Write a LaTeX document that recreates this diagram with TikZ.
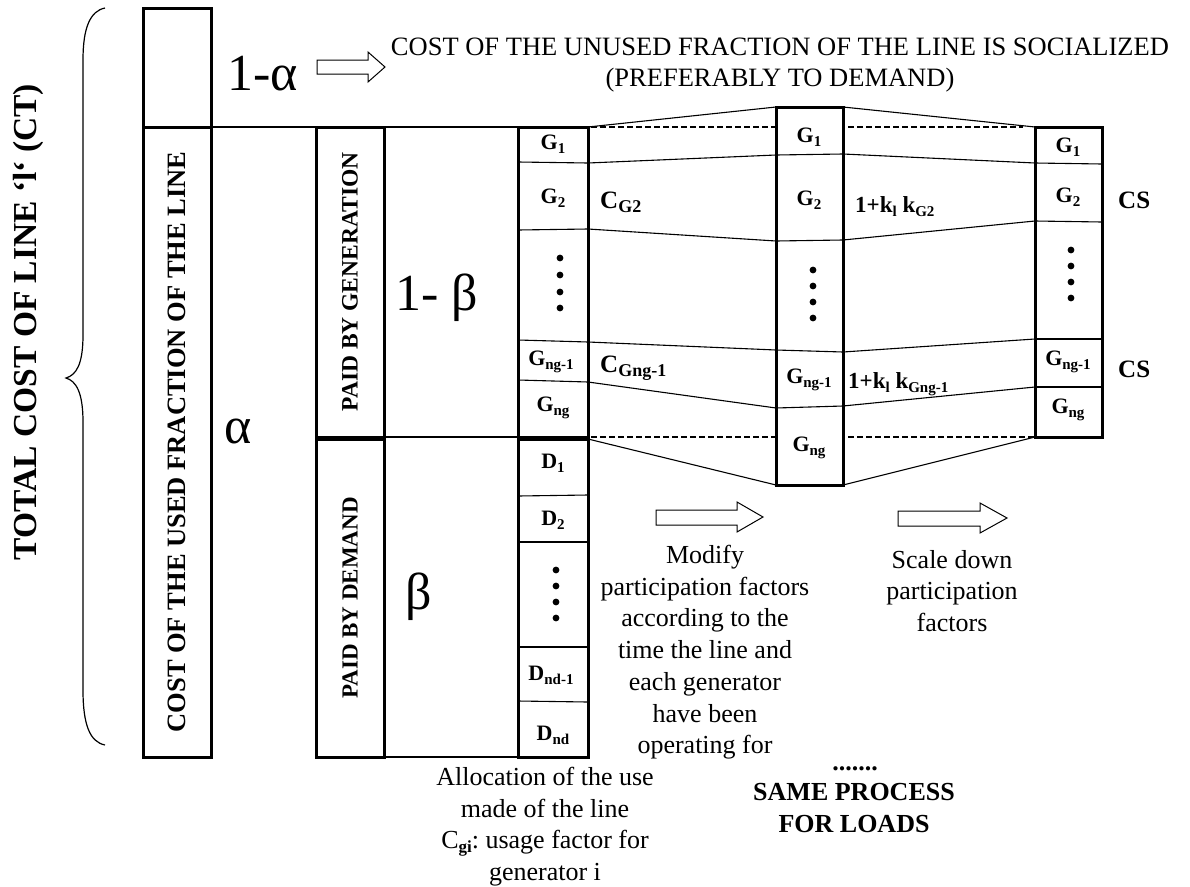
\documentclass[tikz,border=0pt]{standalone}
\usepackage{fontspec}
\setmainfont{Liberation Serif}
\usepackage{graphicx}
\frenchspacing
\newcommand\fs[1]{\fontsize{#1}{#1}\selectfont}
\newcommand\lsub[2][15]{\raisebox{-4pt}{\fontsize{#1}{#1}\selectfont #2}}
\begin{document}
\begin{tikzpicture}[x=1pt,y=-1pt,
  thickbox/.style={draw, line width=3pt, inner sep=0pt, outer sep=0pt},
  thinline/.style={line width=1.1pt},
  dashline/.style={line width=1.1pt, dash pattern=on 6pt off 3pt},
  celltext/.style={font=\bfseries\fs{22}, inner sep=0pt},
  lab/.style={font=\bfseries\fs{25}, inner sep=0pt, anchor=base west},
  big/.style={font=\fs{52}, inner sep=0pt, anchor=base west},
  para/.style={font=\fontsize{26}{31.7}\selectfont, align=center, inner sep=0pt, anchor=north},
  bold26/.style={font=\bfseries\fs{26}, inner sep=0pt, anchor=base},
  hollow/.style={draw, line width=1pt, fill=white},
  dotfill/.style={fill=black}
]
\useasboundingbox (0,0) rectangle (1190,886);

% brace and total label
\draw[line width=1.2pt] (105,8) .. controls (90,11) and (83,28) .. (83,60) -- (83,335)
  .. controls (83,365) and (76,375) .. (66,378) .. controls (76,381) and (83,392) .. (83,422)
  -- (83,690) .. controls (83,725) and (90,742) .. (105,745);
\node[rotate=90, font=\bfseries\fs{33.5}, inner sep=0pt] (total) at (28,322) {TOTAL COST OF LINE ‘l‘ (CT)};

% left column
\node[thickbox, minimum width=68, minimum height=119] (unused) at (177,67.5) {};
\node[thickbox, minimum width=68, minimum height=630, font=\bfseries\fs{26.5}] (used) at (177,442)
  {\rotatebox{90}{COST OF THE USED FRACTION OF THE LINE}};

\node[big] (oma) at (227,90) {1-α};
\node[big] (alpha) at (224,443) {α};
\draw[hollow] (317,60) -- (368,60) -- (368,52) -- (385,67) -- (368,82) -- (368,74) -- (317,74) -- cycle;
\node[para, font=\fontsize{26.5}{31}\selectfont] (topt) at (780,38)
  {COST OF THE UNUSED FRACTION OF THE LINE IS SOCIALIZED\\(PREFERABLY TO DEMAND)};

% paid by boxes
\node[thickbox, minimum width=68, minimum height=310, font=\bfseries\fs{23.5}] (gen) at (350,282)
  {\rotatebox{90}{PAID BY GENERATION}};
\node[thickbox, minimum width=68, minimum height=318, font=\bfseries\fs{23}] (dem) at (350,598)
  {\rotatebox{90}{PAID BY DEMAND}};
\node[big] (omb) at (395,310) {1- β};
\node[big] (beta) at (405,609) {β};

% columns
\node[thickbox, minimum width=70, minimum height=310] (c1g) at (553,282) {};
\node[thickbox, minimum width=70, minimum height=318] (c1d) at (553,598) {};
\node[thickbox, minimum width=67, minimum height=378] (c2) at (809.5,296) {};
\node[thickbox, minimum width=67, minimum height=310] (c3) at (1068.5,282) {};

% horizontal lines from left to column 1
\draw[thinline] (unused.south east) -- (c1g.north west);
\draw[thinline] (gen.south east) -- (c1g.south west);
\draw[thinline] (dem.south east) -- (c1d.south west);

% boundary coordinates
\coordinate (a1) at (588,163); \coordinate (b1) at (776,155);
\coordinate (a2) at (588,229); \coordinate (b2) at (776,241);
\coordinate (a3) at (588,342); \coordinate (b3) at (776,350);
\coordinate (a4) at (588,382); \coordinate (b4) at (776,408);
\coordinate (p1) at (843,154); \coordinate (q1) at (1035,163);
\coordinate (p2) at (843,240); \coordinate (q2) at (1035,221);
\coordinate (p3) at (843,352); \coordinate (q3) at (1035,339);
\coordinate (p4) at (843,406); \coordinate (q4) at (1035,387);

% cell dividers
\draw[thinline] (518,162) -- (a1); \draw[thinline] (518,230) -- (a2);
\draw[thinline] (518,340) -- (a3); \draw[thinline] (518,380) -- (a4);
\draw[thinline] (518,496) -- (588,495); \draw[thinline] (518,542) -- (588,542);
\draw[thinline] (518,647) -- (588,647); \draw[thinline] (518,701) -- (588,702);
\draw[thinline] (b1) -- (p1); \draw[thinline] (b2) -- (p2);
\draw[thinline] (b3) -- (p3); \draw[thinline] (b4) -- (p4);
\draw[thinline] (q1) -- (1102,164); \draw[thinline] (q2) -- (1102,222);
\draw[thinline] (q3) -- (1102,339); \draw[thinline] (q4) -- (1102,387);

% connectors column 1 -> column 2
\draw[thinline] (c1g.north east) -- (c2.north west);
\draw[thinline] (a1) -- (b1); \draw[thinline] (a2) -- (b2);
\draw[thinline] (a3) -- (b3); \draw[thinline] (a4) -- (b4);
\draw[thinline] (c1d.north east) -- (c2.south west);
\draw[dashline] ([xshift=3pt]c1g.north east) -- (c2.west |- c1g.north east);
\draw[dashline] ([xshift=3pt]c1g.south east) -- (c2.west |- c1g.south east);

% connectors column 2 -> column 3
\draw[thinline] (c2.north east) -- (c3.north west);
\draw[thinline] (p1) -- (q1); \draw[thinline] (p2) -- (q2);
\draw[thinline] (p3) -- (q3); \draw[thinline] (p4) -- (q4);
\draw[thinline] (c2.south east) -- (c3.south west);
\draw[dashline] ([xshift=5pt]c2.east |- c3.north west) -- ([xshift=-12pt]c3.north west);
\draw[dashline] ([xshift=5pt]c2.east |- c3.south west) -- (c3.south west);

% column 1 labels
\node[celltext] (g11) at (553,144) {G\lsub{1}};
\node[celltext] (g12) at (553,198) {G\lsub{2}};
\foreach \y in {258,275,292,308} \fill[dotfill] (560,\y) circle (3.4pt);
\node[celltext] (g13) at (551,362) {G\lsub{ng-1}};
\node[celltext] (g14) at (553,408) {G\lsub{ng}};
\node[celltext] (d11) at (553,463) {D\lsub{1}};
\node[celltext] (d12) at (553,520) {D\lsub{2}};
\foreach \y in {570,586,602,618} \fill[dotfill] (556,\y) circle (3.4pt);
\node[celltext] (d13) at (551,675) {D\lsub{nd-1}};
\node[celltext] (d14) at (553,735) {D\lsub{nd}};

% column 2 labels
\node[celltext] (g21) at (809,137) {G\lsub{1}};
\node[celltext] (g22) at (809,200) {G\lsub{2}};
\foreach \y in {270,286,302,318} \fill[dotfill] (813,\y) circle (3.4pt);
\node[celltext] (g23) at (809,380) {G\lsub{ng-1}};
\node[celltext] (g24) at (809,448) {G\lsub{ng}};

% column 3 labels
\node[celltext] (g31) at (1068,147) {G\lsub{1}};
\node[celltext] (g32) at (1068,197) {G\lsub{2}};
\foreach \y in {250,266,282,298} \fill[dotfill] (1071,\y) circle (3.4pt);
\node[celltext] (g33) at (1068,362) {G\lsub{ng-1}};
\node[celltext] (g34) at (1068,410) {G\lsub{ng}};

% side labels
\node[lab] (cg2) at (600,208) {C\lsub[18]{G2}};
\node[lab] (cgng) at (600,372) {C\lsub[18]{Gng-1}};
\node[lab, font=\bfseries\fs{23}] (k2) at (855,212) {1+k\lsub[15]{l} k\lsub[15]{G2}};
\node[lab, font=\bfseries\fs{23}] (kng) at (848,388) {1+k\lsub[15]{l} k\lsub[15]{Gng-1}};
\node[lab] (cs1) at (1118,208) {CS};
\node[lab] (cs2) at (1118,377) {CS};

% lower arrows and texts
\draw[hollow] (656,510) -- (737,510) -- (737,502) -- (763,517) -- (737,532) -- (737,525) -- (656,525) -- cycle;
\draw[hollow] (898,511) -- (980,511) -- (980,503) -- (1007,518) -- (980,533) -- (980,526) -- (898,526) -- cycle;
\node[para] (modify) at (705,545) {Modify\\participation factors\\according to the\\time the line and\\each generator\\have been\\operating for};
\node[para] (scale) at (952,550) {Scale down\\participation\\factors};
\node[para] (alloc) at (545,767) {Allocation of the use\\made of the line\\C\lsub[17]{\bfseries gi}: usage factor for\\generator i};
\node[bold26] (sdots) at (855,770) {.......};
\node[bold26] (same) at (854,800) {SAME PROCESS};
\node[bold26] (loads) at (854,832) {FOR LOADS};
\end{tikzpicture}
\end{document}
